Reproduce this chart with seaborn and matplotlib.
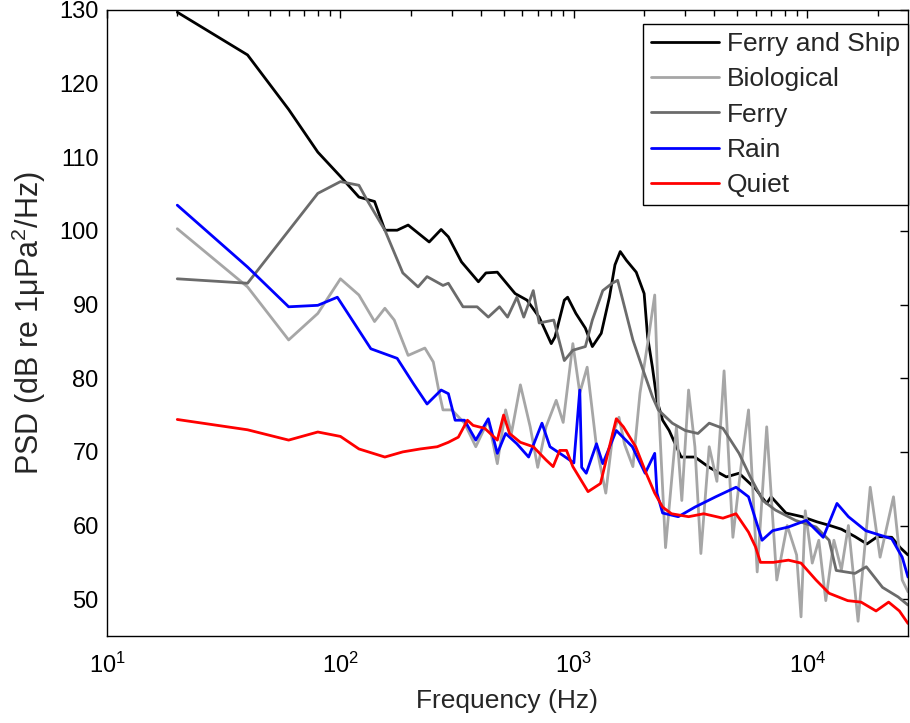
import numpy as np
import pandas as pd
import matplotlib
matplotlib.use("Agg")
import matplotlib.pyplot as plt
import seaborn as sns

# ---------------- data ----------------
series_names = ["Ferry and Ship", "Biological", "Ferry", "Rain", "Quiet"]

ship_f = [20, 40, 60, 80, 100, 120, 140, 155, 175, 195, 240, 270, 290, 330, 390, 420,
          470, 560, 630, 710, 800, 830, 910, 940, 1020, 1120, 1200, 1310, 1420, 1500,
          1580, 1680, 1850, 2000, 2070, 2170, 2270, 2400, 2560, 2880, 3300, 3800, 4500,
          5100, 6000, 6700, 7000, 8100, 9500, 11000, 12500, 14000, 16000, 18000, 20000,
          23000, 25000, 27000]
ship_v = [129.7, 123.9, 116.5, 110.7, 107.4, 104.6, 104.0, 100.1, 100.1, 100.8, 98.5,
          100.2, 99.2, 95.8, 93.1, 94.3, 94.4, 91.5, 90.6, 88.3, 84.7, 85.6, 90.6, 91.0,
          88.8, 86.8, 84.3, 86.1, 91.0, 95.4, 97.2, 96.0, 94.4, 91.5, 85.6, 81.5, 77.0,
          74.3, 72.9, 69.3, 69.3, 67.9, 66.6, 67.1, 65.0, 63.0, 63.9, 61.7, 61.2, 60.5,
          60.0, 59.5, 58.5, 57.5, 58.5, 58.4, 57.0, 56.0]

bio_f = [20, 40, 60, 80, 100, 120, 140, 155, 170, 195, 230, 250, 265, 275, 300, 340,
         380, 430, 470, 510, 540, 590, 650, 700, 760, 840, 900, 990, 1060, 1140, 1250,
         1370, 1470, 1560, 1650, 1790, 1920, 2070, 2220, 2300, 2470, 2750, 2900, 3100,
         3300, 3500, 3800, 4100, 4400, 4800, 5200, 5600, 6100, 6700, 7400, 8200, 9000,
         9400, 9800, 10500, 11200, 12000, 13000, 14000, 15000, 16500, 18600, 20500,
         23400, 25500, 27000]
bio_v = [100.3, 92.4, 85.2, 88.8, 93.5, 91.3, 87.7, 89.5, 87.9, 83.1, 84.1, 82.2, 78.0,
         75.7, 75.7, 73.9, 70.7, 74.3, 68.4, 75.7, 72.5, 79.1, 73.4, 67.9, 73.4, 77.0,
         74.0, 84.7, 78.0, 81.5, 70.7, 64.4, 72.5, 74.7, 71.0, 68.0, 78.0, 84.7, 91.3,
         77.0, 57.0, 73.4, 63.4, 78.4, 70.7, 56.2, 70.7, 66.0, 81.0, 58.4, 68.0, 75.7,
         53.7, 73.4, 52.6, 60.0, 56.0, 47.6, 62.0, 54.9, 58.0, 49.8, 58.0, 54.0, 60.0,
         47.0, 65.2, 55.7, 63.9, 52.6, 51.0]

ferry_f = [20, 40, 80, 100, 120, 130, 155, 185, 215, 235, 275, 290, 335, 385, 430, 480,
           520, 570, 610, 670, 710, 820, 910, 990, 1120, 1200, 1330, 1460, 1540, 1620,
           1790, 1980, 2170, 2300, 2640, 3000, 3400, 3800, 4350, 5100, 5700, 6450, 7300,
           8900, 10900, 12400, 13300, 16000, 17900, 21000, 24500, 27000]
ferry_v = [93.5, 92.9, 105.1, 106.7, 106.2, 104.2, 100.1, 94.3, 92.4, 93.8, 92.6, 92.9,
           89.7, 89.7, 88.3, 89.7, 88.3, 91.0, 88.3, 91.9, 87.5, 87.9, 82.4, 83.8, 84.3,
           87.9, 91.9, 92.9, 93.3, 90.6, 85.2, 81.1, 77.5, 75.7, 73.9, 72.9, 72.5, 73.9,
           73.2, 69.8, 66.6, 63.4, 62.1, 60.7, 59.8, 58.0, 53.9, 53.5, 54.4, 51.6, 50.3,
           49.2]

rain_f = [20, 40, 60, 80, 97, 135, 175, 205, 235, 270, 290, 310, 340, 380, 430, 470,
          510, 570, 640, 730, 790, 900, 1000, 1060, 1080, 1130, 1250, 1330, 1520, 1780,
          2020, 2220, 2270, 2400, 2800, 3300, 4050, 4950, 5600, 6400, 7100, 8300, 9900,
          11700, 13400, 15000, 17800, 23000, 25500, 27000]
rain_v = [103.5, 95.1, 89.7, 89.9, 91.0, 84.0, 82.7, 79.3, 76.5, 78.4, 77.9, 74.3, 74.3,
          71.6, 74.5, 69.8, 72.5, 71.1, 69.3, 73.9, 70.7, 69.5, 68.5, 78.4, 67.9, 67.1,
          71.1, 68.4, 72.9, 70.7, 67.1, 69.8, 64.4, 61.7, 61.2, 62.5, 63.9, 65.2, 63.9,
          58.0, 59.3, 59.8, 60.7, 58.4, 63.0, 61.2, 59.3, 58.2, 55.7, 53.0]

quiet_f = [20, 40, 60, 80, 100, 120, 155, 185, 220, 260, 290, 320, 350, 370, 415, 470,
           500, 530, 590, 670, 760, 815, 870, 930, 990, 1150, 1300, 1420, 1520, 1630,
           1840, 2040, 2220, 2400, 2620, 3100, 3600, 4350, 4950, 5600, 6000, 6300, 7150,
           8300, 9400, 10900, 12400, 14900, 17000, 19700, 22300, 24800, 27000]
quiet_v = [74.4, 73.0, 71.6, 72.7, 72.1, 70.4, 69.3, 70.0, 70.4, 70.7, 71.3, 72.0, 74.3,
           73.6, 73.2, 71.6, 75.0, 72.5, 71.3, 70.7, 68.9, 68.0, 70.2, 70.2, 68.0, 64.6,
           65.7, 70.7, 74.5, 73.4, 70.7, 67.1, 64.4, 62.5, 61.6, 61.2, 61.6, 61.0, 61.6,
           59.1, 57.1, 55.0, 55.0, 55.3, 54.9, 52.6, 50.8, 49.8, 49.6, 48.4, 49.6, 48.4,
           46.7]

y_ticks = [50, 60, 70, 80, 90, 100, 110, 120, 130]

# ---------------- build long-form table ----------------
frames = []
for name, f, v in zip(series_names,
                      [ship_f, bio_f, ferry_f, rain_f, quiet_f],
                      [ship_v, bio_v, ferry_v, rain_v, quiet_v]):
    frames.append(pd.DataFrame({"freq": f, "psd": v, "series": name}))
df = pd.concat(frames, ignore_index=True)

palette = {"Ferry and Ship": "#000000",
           "Biological": "#a6a6a6",
           "Ferry": "#6b6b6b",
           "Rain": "#0000ff",
           "Quiet": "#ff0000"}

# ---------------- plot ----------------
sns.set_style("white")
plt.rcParams["font.family"] = ["Liberation Sans", "DejaVu Sans"]
plt.rcParams["mathtext.fontset"] = "custom"
plt.rcParams["mathtext.rm"] = "Liberation Sans"
plt.rcParams["mathtext.it"] = "Liberation Sans"

fig = plt.figure(figsize=(9.10, 7.23), dpi=100)
ax = fig.add_axes([107 / 910, 1 - 636 / 723, (908 - 107) / 910, (636 - 10) / 723])

sns.lineplot(data=df, x="freq", y="psd", hue="series", hue_order=series_names,
             palette=palette, estimator=None, sort=False, linewidth=2.0, ax=ax)

ax.set_xscale("log")
ax.set_xlim(10, 27000)
ax.set_ylim(45, 130)
ax.set_yticks(y_ticks)
ax.set_xlabel("Frequency (Hz)", fontsize=19, labelpad=8)
ax.set_ylabel("PSD (dB re 1\u03bcPa$^2$/Hz)", fontsize=22, labelpad=8)
ax.tick_params(axis="both", which="both", direction="in", top=True, right=True,
               labelsize=17, colors="black")
ax.tick_params(axis="x", which="both", pad=12)
ax.tick_params(axis="y", which="both", pad=6)
ax.tick_params(axis="both", which="major", length=6, width=1)
ax.tick_params(axis="x", which="minor", length=4, width=1)
for s in ax.spines.values():
    s.set_color("black")
    s.set_linewidth(1.0)

handles, labels = ax.get_legend_handles_labels()
leg = ax.legend(handles, labels, loc="upper right", bbox_to_anchor=(1.0, 1 - 14 / 626),
                borderaxespad=0, fontsize=19, frameon=True, fancybox=False,
                edgecolor="black", framealpha=1, handlelength=2.6,
                handletextpad=0.3, labelspacing=0.43, borderpad=0.3)
leg.get_frame().set_linewidth(1.0)

fig.savefig("out.png", dpi=100)
